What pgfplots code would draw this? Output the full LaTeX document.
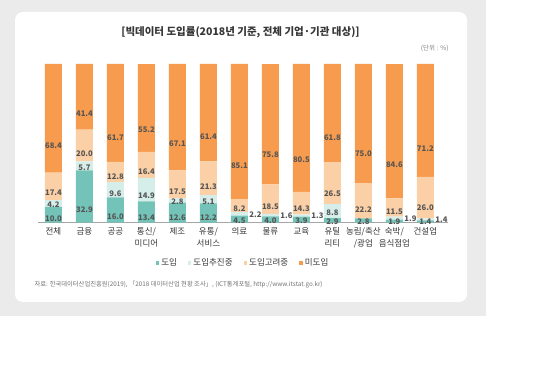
\documentclass[border=0pt]{standalone}
\usepackage{fontspec}
\setmainfont{Noto Sans CJK KR}
\usepackage{pgfplots}
\usepackage{pgfplotstable}
\pgfplotsset{compat=1.18}
\pgfkeys{/pgf/number format/assume math mode=true}

\definecolor{bggray}{RGB}{235,235,235}
\definecolor{cA}{RGB}{115,195,184}
\definecolor{cB}{RGB}{214,238,234}
\definecolor{cC}{RGB}{251,208,166}
\definecolor{cD}{RGB}{247,156,78}
\definecolor{labgray}{RGB}{85,85,85}
\definecolor{txtdark}{RGB}{55,55,55}

\pgfplotstableread{
x a b c d
0 10.0 4.2 17.4 68.4
1 32.9 5.7 20.0 41.4
2 16.0 9.6 12.8 61.7
3 13.4 14.9 16.4 55.2
4 12.6 2.8 17.5 67.1
5 12.2 5.1 21.3 61.4
6 4.5 2.2 8.2 85.1
7 4.0 1.6 18.5 75.8
8 3.9 1.3 14.3 80.5
9 2.9 8.8 26.5 61.8
10 2.8 0.0 22.2 75.0
11 1.9 1.9 11.5 84.6
12 1.4 1.4 26.0 71.2
}\datatable

\newcommand{\pn}[1]{\pgfmathprintnumber[fixed,fixed zerofill,precision=1,assume math mode=true]{#1}}

\pgfplotsset{
  seglabel/.style={
    visualization depends on={rawy\as\va},
    nodes near coords align={center},
    every node near coord/.append style={yshift={-0.39675pt*\va},
      font=\bfseries\fontsize{7.7}{8}\selectfont, text=labgray, inner sep=0pt},
  },
  sqlegend/.style={legend image code/.code={\fill[##1] (0pt,-1.8pt) rectangle (3.6pt,1.8pt);}},
}

\begin{document}
\begin{tikzpicture}
\useasboundingbox (0pt,0pt) rectangle (540pt,390pt);
\fill[bggray] (0pt,74pt) rectangle (486pt,390pt);
\fill[white, rounded corners=8pt] (15pt,88pt) rectangle (467pt,378pt);

\node[font=\bfseries\fontsize{10.5}{12}\selectfont, text=txtdark] at (240.5pt,358pt) {[빅데이터 도입률(2018년 기준, 전체 기업·기관 대상)]};
\node[anchor=east, font=\fontsize{6.5}{8}\selectfont, text=gray] at (452pt,342pt) {(단위 : \%)};
\node[anchor=west, font=\fontsize{6.3}{7}\selectfont, text=gray!90!black] at (31pt,105pt) {자료: 한국데이터산업진흥원(2019), 「2018 데이터산업 현황 조사」, (ICT통계포털, http://www.itstat.go.kr)};

\begin{axis}[
  at={(38pt,167.3pt)}, anchor=south west,
  scale only axis, width=410pt, height=158.7pt,
  xmin=-0.5, xmax=12.73, ymin=0, ymax=100,
  ybar stacked, bar width=17pt,
  axis x line*=bottom, axis y line=none,
  x axis line style={draw=gray!70, line width=0.7pt},
  xtick={0,...,12},
  xticklabels={전체,금융,공공,{통신/\\미디어},제조,{유통/\\서비스},의료,물류,교육,{유틸\\리티},{농림/축산\\/광업},{숙박/\\음식점업},건설업},
  xticklabel style={align=center, font=\fontsize{8.5}{12.5}\selectfont, text=txtdark, inner sep=2pt, yshift=-2.5pt},
  major tick length=0pt, ytick=\empty,
  clip=false,
  legend columns=4,
  legend style={draw=none, fill=none, at={(0.5,-0.254)}, anchor=center,
    font=\fontsize{8.5}{10}\selectfont, text=txtdark,
    /tikz/every even column/.append style={column sep=9pt}},
]
\addplot[fill=cA, draw=none, sqlegend, seglabel=a,
  nodes near coords={\pn{\va}}] table[x=x,y=a]{\datatable};
\addlegendentry{도입}
\addplot[fill=cB, draw=none, sqlegend, seglabel=b,
  nodes near coords={\ifdim\va pt<2.5pt\makebox[0pt][l]{\hspace{10pt}\pn{\va}}\else\ifdim\va pt=8.8pt\raisebox{4pt}{\pn{\va}}\else\pn{\va}\fi\fi}] table[x=x,y=b]{\datatable};
\addlegendentry{도입추진중}
\addplot[fill=cC, draw=none, sqlegend, seglabel=c,
  nodes near coords={\pn{\va}}] table[x=x,y=c]{\datatable};
\addlegendentry{도입고려중}
\addplot[fill=cD, draw=none, sqlegend, seglabel=d,
  nodes near coords={\pn{\va}}] table[x=x,y=d]{\datatable};
\addlegendentry{미도입}
\end{axis}
\end{tikzpicture}
\end{document}
